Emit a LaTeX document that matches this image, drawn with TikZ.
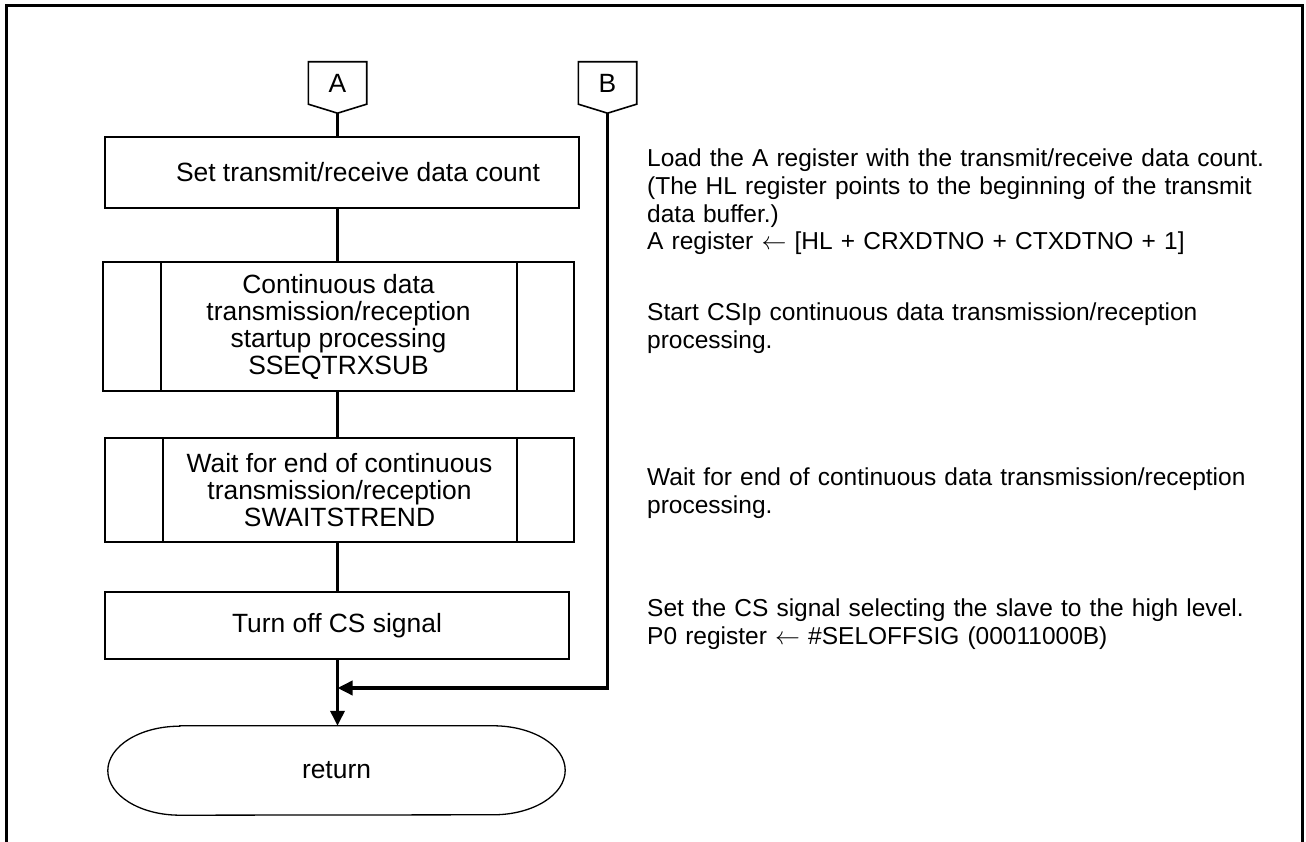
\documentclass[tikz,border=0pt]{standalone}
\usepackage{fontspec}
\setmainfont{Liberation Sans}
\usetikzlibrary{arrows.meta,calc}
\begin{document}
\begin{tikzpicture}[x=1pt,y=1pt,
  boxline/.style={line width=1.6pt},
  stepbox/.style={draw, boxline, inner sep=0pt, align=center,
    font=\fontsize{26.4}{27}\selectfont},
  flow/.style={line width=3.5pt},
  tip/.style={-{Triangle[length=15pt,width=14pt]}},
  note/.style={anchor=base west, inner sep=0pt, text width=640pt, align=left,
    font=\fontsize{24.5}{27.6}\selectfont},
  conn/.style={inner sep=0pt, minimum width=58pt, minimum height=42pt,
    font=\fontsize{26.4}{27}\selectfont}]
\useasboundingbox (0,0) rectangle (1306,842);
% frame (open at the bottom)
\draw[line width=2.5pt] (6.7,-10) -- (6.7,836.3) -- (1302.7,836.3) -- (1302.7,-10);

% off-page connectors
\node[conn] (A) at (337.5,759) {A};
\coordinate (Atip) at ($(A.south)+(0,-9)$);
\draw[boxline] (A.south west) -- (A.north west) -- (A.north east) -- (A.south east) -- (Atip) -- cycle;
\node[conn] (B) at (607.5,759) {B};
\coordinate (Btip) at ($(B.south)+(0,-9)$);
\draw[boxline] (B.south west) -- (B.north west) -- (B.north east) -- (B.south east) -- (Btip) -- cycle;

% process boxes
\node[stepbox, minimum width=474pt, minimum height=71pt] (b1) at (342,669.5) {\hspace*{32pt}Set transmit/receive data count};
\node[stepbox, minimum width=471pt, minimum height=129pt] (b2) at (338.5,515.5)
  {Continuous data\\transmission/reception\\startup processing\\SSEQTRXSUB};
\draw[boxline] ([xshift=59pt]b2.north west) -- ([xshift=59pt]b2.south west);
\draw[boxline] ([xshift=-58pt]b2.north east) -- ([xshift=-58pt]b2.south east);
\node[stepbox, minimum width=469pt, minimum height=104pt] (b3) at (339.5,352)
  {Wait for end of continuous\\transmission/reception\\SWAITSTREND};
\draw[boxline] ([xshift=59pt]b3.north west) -- ([xshift=59pt]b3.south west);
\draw[boxline] ([xshift=-58pt]b3.north east) -- ([xshift=-58pt]b3.south east);
\node[stepbox, minimum width=464pt, minimum height=67pt] (b4) at (337,216.5) {Turn off CS signal};

% terminator
\node[inner sep=0pt, minimum width=313pt, minimum height=89pt,
  font=\fontsize{26.4}{27}\selectfont] (ret) at (336.5,71.5) {return};
\draw[line width=1.3pt] (ret.north west) -- (ret.north east)
  arc[start angle=90, end angle=-90, x radius=72, y radius=44.5]
  -- (ret.south west)
  arc[start angle=270, end angle=90, x radius=72, y radius=44.5] -- cycle;

% connectors
\coordinate (J) at (Atip |- 0,154);
\draw[flow] (Atip) -- (Atip |- b1.north);
\draw[flow] (Atip |- b1.south) -- (Atip |- b2.north);
\draw[flow] (Atip |- b2.south) -- (Atip |- b3.north);
\draw[flow] (Atip |- b3.south) -- (Atip |- b4.north);
\draw[flow, tip] (Atip |- b4.south) -- (Atip |- ret.north);
\draw[flow, tip] (Btip) |- (J);

% notes
\node[note] (n1) at (647,675) {Load the A register with the transmit/receive data count.\\
(The HL register points to the beginning of the transmit\\
data buffer.)\\
A register $\leftarrow$ [HL + CRXDTNO + CTXDTNO + 1]};
\node[note] (n2) at (647,521) {Start CSIp continuous data transmission/reception\\processing.};
\node[note] (n3) at (647,356) {Wait for end of continuous data transmission/reception\\processing.};
\node[note] (n4) at (647,225) {Set the CS signal selecting the slave to the high level.\\
P0 register $\leftarrow$ \#SELOFFSIG (00011000B)};
\end{tikzpicture}
\end{document}
